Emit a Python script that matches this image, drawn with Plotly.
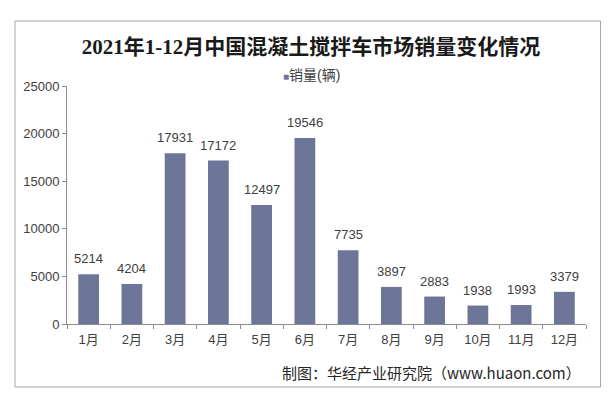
import plotly.graph_objects as go

months = ["1月", "2月", "3月", "4月", "5月", "6月", "7月", "8月", "9月", "10月", "11月", "12月"]
sales = [5214, 4204, 17931, 17172, 12497, 19546, 7735, 3897, 2883, 1938, 1993, 3379]
series_name = "销量(辆)"
title_text = "2021年1-12月中国混凝土搅拌车市场销量变化情况"
source_text = "制图：华经产业研究院（www.huaon.com）"
y_ticks = [0, 5000, 10000, 15000, 20000, 25000]

bar_color = "#6d7599"
text_color = "#404040"
axis_color = "#8c8c8c"
sans = "Liberation Sans, Arial, Noto Sans CJK SC, sans-serif"

# page body adds an 8px offset; target pixel positions are in window coords
OFF = 8
L, R, T, B = 67, 586, 86, 324  # plot area in window pixels
W, H = 613, 399

fig = go.Figure()
fig.add_trace(go.Bar(
    x=months, y=sales, name=series_name,
    marker=dict(color=bar_color, line=dict(width=0)),
    showlegend=False,
))

# value labels above bars
for m, v in zip(months, sales):
    fig.add_annotation(
        x=m, y=v, xref="x", yref="y", text=str(v),
        showarrow=False, yanchor="bottom", yshift=6,
        font=dict(family=sans, size=13, color=text_color),
    )

fig.update_layout(
    width=W, height=H,
    margin=dict(l=L - OFF, r=W - (R - OFF), t=T - OFF, b=H - (B - OFF), pad=0),
    paper_bgcolor="white", plot_bgcolor="white",
    bargap=0.52,
    title=dict(
        text="<b>" + title_text + "</b>",
        x=(311 - L) / (R - L), xref="paper", xanchor="center",
        y=1 - (47 - OFF) / H, yanchor="middle",
        font=dict(family="Liberation Serif, Noto Sans CJK SC, serif", size=21, color="#1a1a1a"),
    ),
    font=dict(family=sans, color=text_color),
)

fig.update_xaxes(
    type="category",
    showline=True, linecolor=axis_color, linewidth=1,
    ticks="outside", tickson="boundaries", ticklen=4, tickcolor=axis_color,
    ticklabelstandoff=3,
    tickfont=dict(family=sans, size=13, color=text_color),
    showgrid=False, zeroline=False,
)
fig.update_yaxes(
    range=[0, 25000], tickvals=y_ticks, ticktext=[str(v) for v in y_ticks],
    showline=True, linecolor=axis_color, linewidth=1,
    ticks="outside", ticklen=4, tickcolor=axis_color,
    tickfont=dict(family=sans, size=13, color=text_color),
    showgrid=False, zeroline=False,
)

plot_w = R - L
plot_h = B - T

# legend drawn as a compact marker + label
fig.add_annotation(
    text="<span style='color:" + bar_color + ";font-size:10px'>■</span>" + series_name,
    xref="paper", yref="paper",
    x=(311 - L) / plot_w, xanchor="center",
    y=1 + (T - 75) / plot_h, yanchor="middle",
    showarrow=False,
    font=dict(family=sans, size=14, color=text_color),
)

fig.add_annotation(
    text=source_text, xref="paper", yref="paper",
    x=(583 - L) / plot_w, xanchor="right",
    y=-(372 - B) / plot_h, yanchor="middle",
    showarrow=False,
    font=dict(family="Noto Sans CJK SC, Liberation Sans, sans-serif", size=15, color="#262626"),
)

fig.add_shape(
    type="rect", xref="paper", yref="paper",
    x0=(15 - L) / plot_w, x1=(600.5 - L) / plot_w,
    y0=-(387 - B) / plot_h, y1=1 + (T - 21) / plot_h,
    line=dict(color="#a6a6a6", width=1), fillcolor="rgba(0,0,0,0)", layer="below",
)

fig.write_html("out.html")
